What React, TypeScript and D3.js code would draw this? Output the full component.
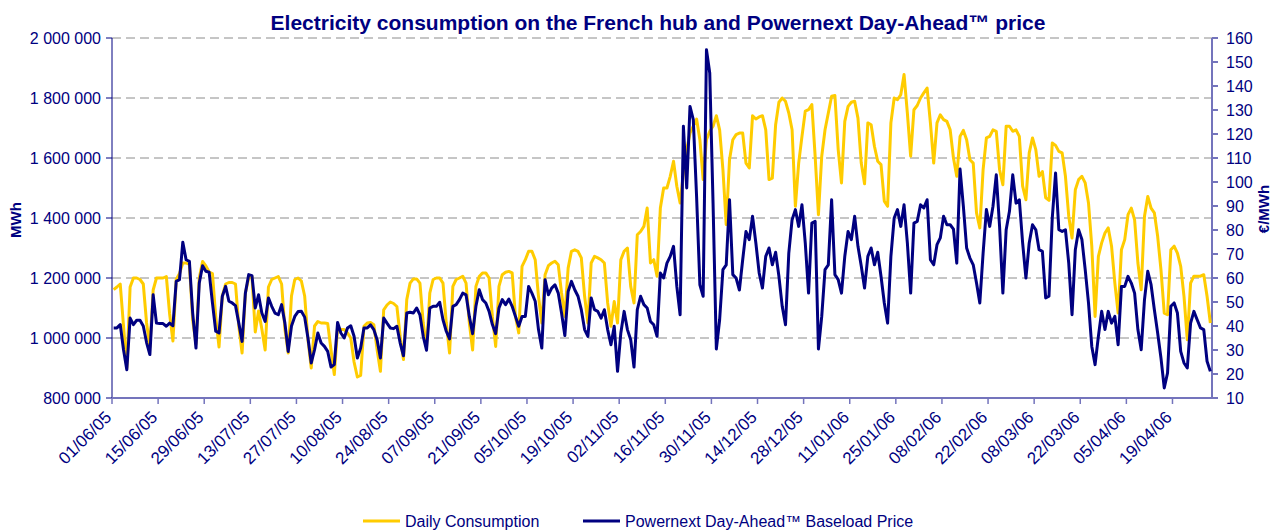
import * as d3 from "d3";

const width = 1272;
const height = 532;
const margin = { top: 38, right: 60, bottom: 134, left: 112 };

// daily values from 01/06/05 to 30/04/06
const startDate = new Date(Date.UTC(2005, 5, 1));

// Daily Consumption (MWh)
const consumption = [
  1161000, 1170000, 1180000, 1040000, 900000, 1170000, 1200000,
  1200000, 1195000, 1180000, 1050000, 970000, 1160000, 1200000,
  1200000, 1200000, 1205000, 1080000, 990000, 1195000, 1215000,
  1250000, 1250000, 1245000, 1060000, 980000, 1200000, 1255000,
  1240000, 1220000, 1215000, 1070000, 970000, 1140000, 1180000,
  1185000, 1185000, 1180000, 1040000, 950000, 1150000, 1200000,
  1205000, 1020000, 1090000, 1030000, 960000, 1170000, 1195000,
  1200000, 1205000, 1180000, 1030000, 950000, 1140000, 1195000,
  1200000, 1190000, 1140000, 995000, 900000, 1040000, 1055000,
  1050000, 1050000, 1048000, 960000, 878000, 1035000, 1028000,
  1028000, 1017000, 1000000, 920000, 870000, 875000, 1039000,
  1050000, 1052000, 1044000, 961000, 889000, 1094000, 1110000,
  1120000, 1115000, 1105000, 1006000, 928000, 1128000, 1183000,
  1197000, 1197000, 1183000, 1050000, 970000, 1150000, 1195000,
  1200000, 1200000, 1183000, 1050000, 950000, 1172000, 1195000,
  1200000, 1206000, 1183000, 1050000, 960000, 1172000, 1205000,
  1217000, 1217000, 1200000, 1072000, 972000, 1172000, 1211000,
  1219000, 1222000, 1217000, 1072000, 1017000, 1239000, 1261000,
  1289000, 1289000, 1261000, 1139000, 1050000, 1211000, 1241000,
  1250000, 1256000, 1244000, 1150000, 1072000, 1233000, 1289000,
  1294000, 1289000, 1267000, 1139000, 1050000, 1250000, 1272000,
  1267000, 1261000, 1250000, 1117000, 1039000, 1122000, 1050000,
  1261000, 1289000, 1300000, 1172000, 1117000, 1344000, 1355000,
  1372000, 1433000, 1250000, 1261000, 1206000, 1433000, 1500000,
  1500000, 1539000, 1589000, 1506000, 1450000, 1550000, 1628000,
  1683000, 1706000, 1730000, 1661000, 1528000, 1661000, 1689000,
  1706000, 1741000, 1694000, 1561000, 1378000, 1594000, 1661000,
  1678000, 1683000, 1683000, 1583000, 1567000, 1741000, 1730000,
  1737000, 1741000, 1694000, 1528000, 1533000, 1711000, 1786000,
  1800000, 1789000, 1750000, 1694000, 1439000, 1583000, 1672000,
  1756000, 1761000, 1778000, 1606000, 1411000, 1606000, 1694000,
  1750000, 1806000, 1808000, 1628000, 1517000, 1722000, 1772000,
  1786000, 1789000, 1733000, 1583000, 1514000, 1717000, 1711000,
  1639000, 1589000, 1578000, 1456000, 1439000, 1717000, 1800000,
  1794000, 1811000, 1878000, 1750000, 1606000, 1761000, 1775000,
  1800000, 1817000, 1833000, 1717000, 1583000, 1717000, 1744000,
  1728000, 1722000, 1694000, 1600000, 1539000, 1672000, 1692000,
  1661000, 1594000, 1583000, 1417000, 1367000, 1561000, 1667000,
  1672000, 1694000, 1689000, 1561000, 1511000, 1706000, 1706000,
  1689000, 1694000, 1672000, 1506000, 1461000, 1617000, 1667000,
  1628000, 1539000, 1555000, 1467000, 1459000, 1650000, 1642000,
  1622000, 1617000, 1539000, 1406000, 1333000, 1494000, 1528000,
  1539000, 1517000, 1450000, 1306000, 1072000, 1272000, 1317000,
  1350000, 1367000, 1306000, 1183000, 1083000, 1294000, 1328000,
  1411000, 1433000, 1394000, 1250000, 1161000, 1406000, 1472000,
  1433000, 1417000, 1339000, 1228000, 1083000, 1078000, 1294000,
  1306000, 1283000, 1239000, 1139000, 994000, 1183000, 1206000,
  1206000, 1206000, 1211000, 1139000, 1050000,
];

// Powernext Day-Ahead Baseload Price (EUR/MWh)
const price = [
  39.2, 39.2, 40.6, 30.1, 21.8, 43.3, 40.6,
  42.4, 42.4, 40.0, 33.1, 28.1, 53.0, 41.2,
  41.0, 41.0, 39.9, 41.2, 40.1, 58.6, 59.3,
  74.9, 67.6, 66.9, 45.4, 30.8, 57.9, 65.1,
  62.8, 62.4, 49.6, 37.8, 37.1, 52.4, 56.5,
  50.3, 49.6, 48.5, 41.2, 33.6, 53.7, 61.4,
  61.0, 47.5, 53.0, 45.4, 41.9, 51.7, 48.2,
  45.4, 44.7, 48.9, 41.2, 29.4, 40.0, 44.0,
  46.0, 46.1, 43.7, 35.0, 24.6, 30.1, 37.1,
  32.9, 31.5, 29.4, 22.9, 23.9, 41.5, 37.1,
  35.0, 39.2, 40.1, 35.7, 26.7, 30.8, 39.2,
  39.2, 40.5, 38.5, 34.3, 26.7, 43.3, 41.2,
  39.2, 38.9, 39.9, 32.9, 27.6, 45.4, 45.7,
  45.4, 47.5, 44.7, 35.7, 29.9, 47.5, 48.2,
  48.2, 49.9, 42.6, 37.8, 34.6, 48.2, 48.9,
  51.0, 53.7, 53.0, 44.0, 36.8, 48.2, 55.1,
  51.0, 49.6, 46.1, 40.6, 36.8, 47.5, 51.0,
  48.9, 51.2, 48.2, 44.0, 39.9, 44.0, 44.0,
  56.5, 53.7, 50.3, 38.5, 30.8, 59.3, 53.0,
  55.8, 57.2, 53.7, 45.4, 36.0, 54.4, 58.6,
  55.1, 52.4, 46.8, 38.5, 35.7, 51.7, 46.8,
  46.1, 43.3, 46.8, 38.5, 32.2, 39.9, 21.1,
  37.1, 46.1, 38.5, 34.3, 22.9, 46.8, 52.4,
  48.9, 47.5, 41.9, 40.5, 35.7, 62.1, 60.0,
  66.2, 69.0, 73.2, 56.5, 44.7, 123.2, 97.5,
  131.5, 126.0, 94.0, 57.2, 52.4, 155.1, 145.4,
  91.2, 30.4, 42.6, 63.5, 65.5, 92.6, 61.4,
  60.0, 55.0, 67.6, 79.4, 76.0, 85.7, 74.6,
  62.1, 55.8, 69.0, 72.5, 65.5, 70.7, 60.7,
  48.2, 40.5, 70.4, 84.3, 88.5, 81.5, 90.5,
  74.6, 53.7, 82.9, 83.6, 30.4, 44.0, 63.5,
  65.5, 92.6, 61.4, 59.3, 53.7, 69.0, 79.4,
  76.0, 85.7, 73.2, 65.0, 55.8, 69.0, 72.5,
  65.5, 70.7, 60.7, 49.6, 41.2, 69.0, 85.0,
  88.5, 81.5, 90.5, 74.6, 53.7, 82.9, 83.6,
  90.5, 89.2, 92.6, 67.6, 65.5, 73.9, 76.7,
  85.7, 82.2, 82.2, 80.4, 66.2, 105.4, 89.9,
  72.5, 68.3, 65.5, 57.9, 49.6, 70.4, 88.5,
  81.5, 89.9, 103.0, 81.5, 53.7, 80.1, 87.8,
  103.0, 91.2, 92.6, 74.6, 60.0, 74.6, 82.2,
  80.1, 71.8, 71.1, 51.7, 52.4, 85.0, 103.7,
  80.1, 79.4, 80.1, 66.2, 44.7, 71.8, 80.1,
  76.0, 63.5, 49.6, 31.5, 23.9, 35.7, 46.1,
  38.5, 46.1, 41.2, 44.0, 32.2, 56.5, 56.5,
  60.7, 57.9, 53.7, 38.5, 30.1, 51.0, 62.8,
  57.2, 46.8, 37.1, 26.7, 14.2, 20.4, 48.2,
  49.6, 45.4, 29.4, 24.6, 22.5, 41.2, 46.1,
  42.6, 39.2, 38.5, 25.3, 21.1,
];

const xTickLabels = [
  "01/06/05", "15/06/05", "29/06/05", "13/07/05", "27/07/05", "10/08/05",
  "24/08/05", "07/09/05", "21/09/05", "05/10/05", "19/10/05", "02/11/05",
  "16/11/05", "30/11/05", "14/12/05", "28/12/05", "11/01/06", "25/01/06",
  "08/02/06", "22/02/06", "08/03/06", "22/03/06", "05/04/06", "19/04/06",
];

const leftTicks = [800000, 1000000, 1200000, 1400000, 1600000, 1800000, 2000000];
const rightTicks = [10, 20, 30, 40, 50, 60, 70, 80, 90, 100, 110, 120, 130, 140, 150, 160];

const navy = "#000080";
const yellow = "#FFCC00";
const axisLight = "#7474BC";
const font = "'Liberation Sans', Arial, sans-serif";

export default function App() {
  const x0 = margin.left;
  const x1 = width - margin.right;
  const yTop = margin.top;
  const yBot = height - margin.bottom;

  const dates = consumption.map((_, i) => d3.utcDay.offset(startDate, i));
  const endDate = d3.utcDay.offset(startDate, consumption.length);

  const x = d3.scaleUtc().domain([startDate, endDate]).range([x0, x1]);
  const y = d3.scaleLinear().domain([800000, 2000000]).range([yBot, yTop]);
  const y2 = d3.scaleLinear().domain([10, 160]).range([yBot, yTop]);

  const px = (i: number) => x(d3.utcHour.offset(dates[i], 12));

  const consLine = d3
    .line<number>()
    .x((_, i) => px(i))
    .y((d) => y(d));
  const priceLine = d3
    .line<number>()
    .x((_, i) => px(i))
    .y((d) => y2(d));

  const parse = d3.utcParse("%d/%m/%y");
  const fmtLeft = (v: number) => d3.format(",")(v).replace(/,/g, " ");

  return (
    <svg
      width={width}
      height={height}
      style={{ position: "absolute", left: 0, top: 0, background: "white" }}
      fontFamily={font}
    >
      <text
        x={658}
        y={30}
        textAnchor="middle"
        fontSize={21}
        fontWeight="bold"
        fill={navy}
      >
        Electricity consumption on the French hub and Powernext Day-Ahead™ price
      </text>

      {/* gridlines */}
      {leftTicks.slice(1).map((t) => (
        <line
          key={t}
          x1={x0}
          x2={x1}
          y1={y(t)}
          y2={y(t)}
          stroke="#8c8c8c"
          strokeWidth={1}
          strokeDasharray="9 5"
        />
      ))}

      {/* left axis */}
      <line x1={x0} x2={x0} y1={yTop} y2={yBot} stroke={navy} strokeWidth={1} />
      {leftTicks.map((t) => (
        <g key={t}>
          <line x1={x0 - 6} x2={x0} y1={y(t)} y2={y(t)} stroke={navy} />
          <text
            x={x0 - 11}
            y={y(t)}
            dy="0.35em"
            textAnchor="end"
            fontSize={16}
            fill={navy}
          >
            {fmtLeft(t)}
          </text>
        </g>
      ))}

      {/* right axis */}
      <line x1={x1} x2={x1} y1={yTop} y2={yBot} stroke={axisLight} strokeWidth={2} />
      {rightTicks.map((t) => (
        <g key={t}>
          <line x1={x1} x2={x1 + 6} y1={y2(t)} y2={y2(t)} stroke={axisLight} strokeWidth={2} />
          <text
            x={x1 + 14}
            y={y2(t)}
            dy="0.35em"
            textAnchor="start"
            fontSize={16}
            fill={navy}
          >
            {t}
          </text>
        </g>
      ))}

      {/* bottom axis */}
      <line x1={x0} x2={x1} y1={yBot} y2={yBot} stroke={axisLight} strokeWidth={2} />
      {xTickLabels.map((lab) => {
        const tx = x(parse(lab) as Date);
        return (
          <g key={lab}>
            <line x1={tx} x2={tx} y1={yBot} y2={yBot + 6} stroke={axisLight} strokeWidth={1.5} />
            <text
              transform={`translate(${tx - 8},${yBot + 12}) rotate(-45)`}
              textAnchor="end"
              dy="0.7em"
              fontSize={17}
              fill={navy}
            >
              {lab}
            </text>
          </g>
        );
      })}

      {/* axis titles */}
      <text
        transform={`translate(21,220) rotate(-90)`}
        textAnchor="middle"
        fontSize={15}
        fontWeight="bold"
        fill={navy}
      >
        MWh
      </text>
      <text
        transform={`translate(1269,209) rotate(-90)`}
        textAnchor="middle"
        fontSize={15}
        fontWeight="bold"
        fill={navy}
      >
        €/MWh
      </text>

      {/* series */}
      <path d={consLine(consumption) ?? ""} fill="none" stroke={yellow} strokeWidth={3} strokeLinejoin="round" />
      <path d={priceLine(price) ?? ""} fill="none" stroke={navy} strokeWidth={3} strokeLinejoin="round" />

      {/* legend */}
      <line x1={363} x2={400} y1={521} y2={521} stroke={yellow} strokeWidth={3} />
      <text x={405} y={521} dy="0.35em" fontSize={16} fill={navy}>
        Daily Consumption
      </text>
      <line x1={583} x2={620} y1={521} y2={521} stroke={navy} strokeWidth={3} />
      <text x={625} y={521} dy="0.35em" fontSize={16} fill={navy}>
        Powernext Day-Ahead™ Baseload Price
      </text>
    </svg>
  );
}
